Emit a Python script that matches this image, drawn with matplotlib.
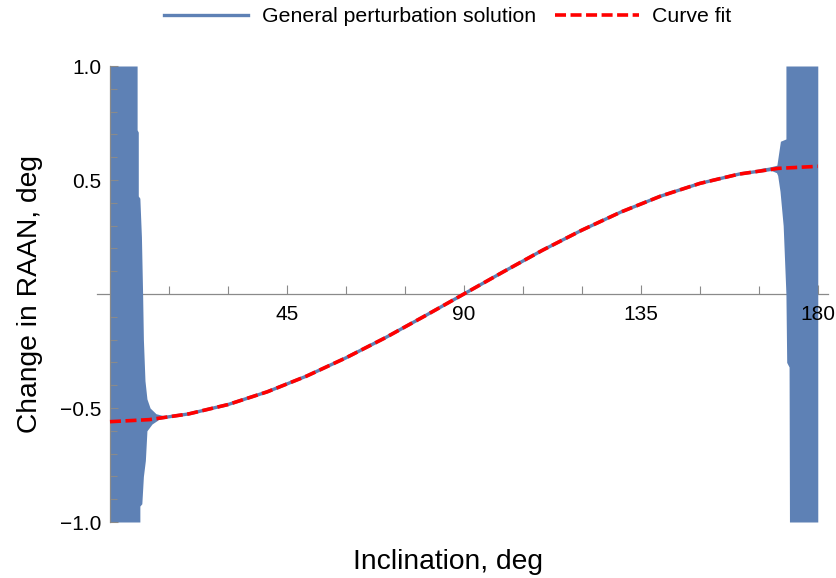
import numpy as np
import matplotlib
matplotlib.use("Agg")
import matplotlib.pyplot as plt
from matplotlib.ticker import FixedLocator

plt.rcParams['font.family'] = ['Liberation Sans', 'DejaVu Sans']

# Smooth part of the general perturbation solution (deg vs deg)
incl = [10, 20, 30, 40, 50, 60, 70, 80, 90, 100, 110, 120, 130, 140, 150, 160, 170]
raan = [-0.551, -0.526, -0.485, -0.429, -0.360, -0.280, -0.192, -0.097, 0.000,
        0.097, 0.192, 0.280, 0.360, 0.429, 0.485, 0.526, 0.551]

# Curve fit
fit_incl = [0, 10, 20, 30, 40, 50, 60, 70, 80, 90, 100, 110, 120, 130, 140, 150, 160, 170, 180]
fit_raan = [-0.560, -0.551, -0.526, -0.485, -0.429, -0.360, -0.280, -0.192, -0.097, 0.000,
            0.097, 0.192, 0.280, 0.360, 0.429, 0.485, 0.526, 0.551, 0.560]

# Oscillating region near i = 0 (band from 0 deg out to right edge)
left_y = [1.0, 0.72, 0.71, 0.43, 0.42, 0.25, 0.0, -0.2, -0.38, -0.46, -0.50, -0.525,
          -0.54, -0.548, -0.555, -0.57, -0.6, -0.73, -0.8, -0.92, -0.93, -1.0]
left_edge = [6.9, 6.9, 7.2, 7.2, 7.6, 8.0, 8.3, 8.5, 8.9, 9.4, 10.2, 11.7,
             15.0, 12.5, 12.0, 10.7, 9.4, 9.0, 8.5, 8.1, 7.6, 7.6]

# Oscillating region near i = 180 (band from left edge out to 180 deg)
right_y = [1.0, 0.68, 0.67, 0.60, 0.565, 0.558, 0.550, 0.546, 0.540, 0.532, 0.52,
           0.45, 0.3, 0.0, -0.3, -0.32, -1.0]
right_edge = [171.9, 171.9, 170.5, 169.9, 169.6, 168.0, 165.2, 166.2, 168.4, 169.5,
              169.8, 170.4, 171.2, 171.9, 172.1, 172.7, 172.8]

blue = '#5E81B5'
red = '#FF0000'
axis_gray = '#8a8a8a'

fig = plt.figure(figsize=(8.37, 5.78), dpi=100)
ax = fig.add_axes([97 / 837, 56 / 578, 731 / 837, 456 / 578])

ax.fill_betweenx(left_y, 0, left_edge, color=blue, linewidth=0, zorder=1)
ax.fill_betweenx(right_y, right_edge, 180, color=blue, linewidth=0, zorder=1)
gp, = ax.plot(incl, raan, color=blue, lw=2.4, zorder=2,
              label='General perturbation solution')
cf, = ax.plot(fit_incl, fit_raan, color=red, lw=2.6, dashes=(3.05, 1.25), zorder=3,
              label='Curve fit')

ax.set_xlim(-3.3, 182.6)
ax.set_ylim(-1, 1)

for s in ['top', 'right']:
    ax.spines[s].set_visible(False)
ax.spines['left'].set_position(('data', 0))
ax.spines['bottom'].set_position(('data', 0))
ax.spines['bottom'].set_zorder(0.9)
for s in ['left', 'bottom']:
    ax.spines[s].set_color(axis_gray)
    ax.spines[s].set_linewidth(0.9)

ax.xaxis.set_major_locator(FixedLocator([45, 90, 135, 180]))
ax.xaxis.set_minor_locator(FixedLocator([15, 30, 60, 75, 105, 120, 150, 165]))
ax.yaxis.set_major_locator(FixedLocator([-1.0, -0.5, 0.5, 1.0]))
ax.yaxis.set_minor_locator(FixedLocator([-0.9, -0.8, -0.7, -0.6, -0.4, -0.3, -0.2, -0.1,
                                         0.1, 0.2, 0.3, 0.4, 0.6, 0.7, 0.8, 0.9]))
ax.set_xticklabels(['45', '90', '135', '180'])
ax.set_yticklabels(['\u22121.0', '\u22120.5', '0.5', '1.0'])

ax.tick_params(axis='x', which='major', direction='in', length=6.5, width=0.8,
               color=axis_gray, labelsize=15, pad=8)
ax.tick_params(axis='x', which='minor', direction='in', length=6, width=0.8, color=axis_gray)
ax.tick_params(axis='y', which='major', direction='in', length=5.5, width=0.8,
               color=axis_gray, labelsize=15, pad=6)
ax.tick_params(axis='y', which='minor', direction='in', length=5, width=0.8, color=axis_gray)

fig.text(448 / 837, 1 - 569 / 578, 'Inclination, deg', fontsize=20.3,
         ha='center', va='baseline')
fig.text(30 / 837, 1 - 294 / 578, 'Change in RAAN, deg', fontsize=20.3,
         rotation=90, ha='center', va='center')

fig.legend(handles=[gp, cf], loc='center', bbox_to_anchor=(448 / 837, 1 - 17 / 578),
           ncol=2, frameon=False, fontsize=15.3, handlelength=3.95, handletextpad=0.65,
           columnspacing=0.87)

fig.savefig('out.png', dpi=100)
